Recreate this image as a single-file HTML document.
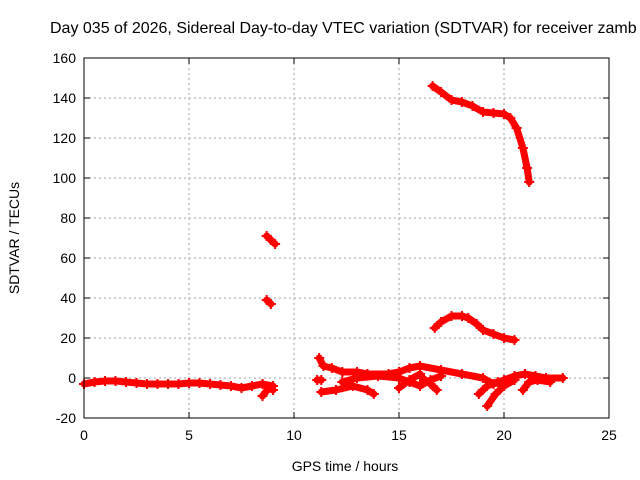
<!DOCTYPE html>
<html><head><meta charset="utf-8"><style>
body{margin:0;background:#fff;overflow:hidden}
svg{display:block;font-family:"Liberation Sans",sans-serif}
</style></head><body>
<svg id="chart" width="640" height="480">
<text x="50" y="33" font-size="16">Day 035 of 2026, Sidereal Day-to-day VTEC variation (SDTVAR) for receiver zamb</text>
<text x="345" y="471" font-size="14" text-anchor="middle">GPS time / hours</text>
<text transform="translate(19,238) rotate(-90)" font-size="14" text-anchor="middle">SDTVAR / TECUs</text>
<g id="grid"></g><g id="series"></g><g id="axes"></g>
</svg>
<script>
const xTicks=[0,5,10,15,20,25];
const yTicks=[-20,0,20,40,60,80,100,120,140,160];
const track1=[[0,-3],[0.5,-2],[1,-1.5],[1.5,-1.5],[2,-2],[2.5,-2.5],[3,-3],[3.5,-3],[4,-3],[4.5,-3],[5,-2.5],[5.5,-2.5],[6,-3],[6.5,-3.5],[7,-4],[7.5,-5],[8,-4],[8.5,-3],[9,-4]];
const track2=[[16.6,146],[17,143],[17.5,139],[18,138],[18.5,136],[19,133],[19.5,132.5],[20,132],[20.3,130],[20.6,125],[20.9,115],[21.1,105],[21.2,98]];
const track3=[[8.7,71],[8.9,69],[9.1,67]];
const track3b=[[8.7,39],[8.9,37]];
const track4=[[16.7,25],[17,28],[17.5,31],[18,31],[18.3,30],[18.7,27],[19,24],[19.5,22],[20,20],[20.5,19]];
const track5=[[11.2,10],[11.4,6],[11.8,5],[12.3,3],[13,3],[13.5,2],[14.5,2],[15,3],[15.5,5],[16,6],[17,4],[18,2],[19,0],[19.5,-3],[20,-1],[20.5,1],[21,2],[21.5,1],[22,0],[22.8,0]];
const track6=[[11.3,-7],[12,-6],[12.8,-4],[13.5,-6],[13.8,-8]];
const track7=[[12.3,-2],[13,0],[14,1],[15,0],[15.5,-2],[16,-4],[16.5,-1],[17,1]];
const track8=[[15,-5],[15.5,-1],[16,2]];
const track9=[[16,1],[16.5,-3],[16.8,-6]];
const track10=[[18.8,-8],[19.2,-4],[19.7,-2]];
const track11=[[19.2,-14],[19.6,-8],[20,-4],[20.5,-1]];
const track12=[[20.9,-6],[21.2,-2],[21.6,-1],[22.2,-2]];
const track13=[[8.5,-9],[8.8,-5],[9,-6]];
const track14=[[11.1,-1],[11.3,-1]];
const allTracks=[track1,track2,track3,track3b,track4,track5,track6,track7,track8,track9,track10,track11,track12,track13,track14];
const NS="http://www.w3.org/2000/svg";
const X0=84,X1=609,Y0=418,Y1=58;
function xs(v){return X0+(v-0)/(25-0)*(X1-X0);}
function ys(v){return Y0-(v+20)/(180)*(Y0-Y1);}
function mk(tag,attrs,parent){const e=document.createElementNS(NS,tag);for(const k in attrs)e.setAttribute(k,attrs[k]);parent.appendChild(e);return e;}
const grid=document.getElementById('grid'),axes=document.getElementById('axes'),series=document.getElementById('series');
xTicks.forEach(t=>{
 const x=xs(t);
 if(t>0&&t<25){const g=mk('line',{x1:x,x2:x,y1:Y1,y2:Y0,stroke:'#a0a0a0','stroke-dasharray':'2,3'},grid);
 
 }
 mk('line',{x1:x,x2:x,y1:Y0,y2:Y0-6,stroke:'#000'},axes);
 mk('line',{x1:x,x2:x,y1:Y1,y2:Y1+6,stroke:'#000'},axes);
 const l=mk('text',{x:x,y:Y0+22,'font-size':14,'text-anchor':'middle'},axes);l.textContent=t;
 
 
});
yTicks.forEach(t=>{
 const y=ys(t);
 if(t>-20&&t<160){const g=mk('line',{x1:X0,x2:X1,y1:y,y2:y,stroke:'#a0a0a0','stroke-dasharray':'2,3'},grid);
 
 }
 mk('line',{x1:X0,x2:X0+6,y1:y,y2:y,stroke:'#000'},axes);
 mk('line',{x1:X1,x2:X1-6,y1:y,y2:y,stroke:'#000'},axes);
 const l=mk('text',{x:X0-8,y:y+5,'font-size':14,'text-anchor':'end'},axes);l.textContent=t;
 
 
});
const frame=mk('rect',{x:X0,y:Y1,width:X1-X0,height:Y0-Y1,fill:'none',stroke:'#000'},axes);


allTracks.forEach(tr=>{
 const pts=tr.map(p=>xs(p[0])+','+ys(p[1])).join(' ');
 const pl=mk('polyline',{points:pts,fill:'none',stroke:'#f00','stroke-width':7,'stroke-linejoin':'round','stroke-linecap':'round'},series);
 
 
 tr.forEach(p=>{
  const x=xs(p[0]),y=ys(p[1]);
  const m=mk('path',{d:`M${x-5},${y}H${x+5}M${x},${y-5}V${y+5}`,stroke:'#f00','stroke-width':2},series);
  
  
 });
});
</script>
</body></html>
